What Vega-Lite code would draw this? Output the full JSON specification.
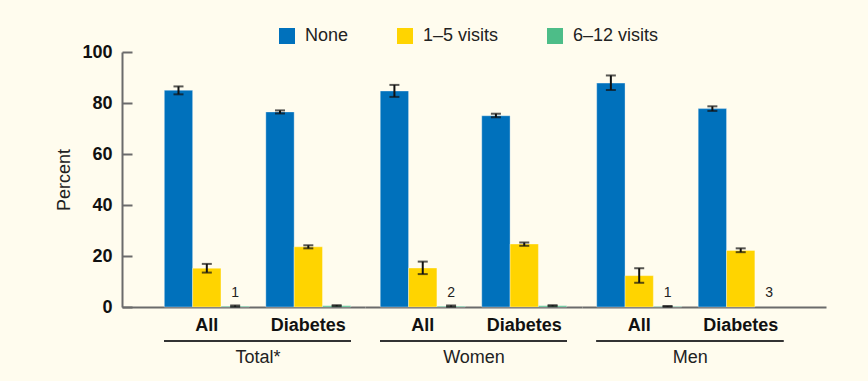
{
  "$schema": "https://vega.github.io/schema/vega-lite/v6.json",
  "background": "#fffcee",
  "padding": {"left": 55, "top": 27, "right": 42, "bottom": 16},
  "spacing": 0,
  "data": {
    "values": [
      {"gender": "Total*", "subgroup": "All", "series": "None", "value": 85.0, "lo": 83.4, "hi": 86.5, "note": null},
      {"gender": "Total*", "subgroup": "All", "series": "1–5 visits", "value": 15.2, "lo": 13.5, "hi": 16.9, "note": null},
      {"gender": "Total*", "subgroup": "All", "series": "6–12 visits", "value": 0.3, "lo": 0.1, "hi": 0.6, "note": "1"},
      {"gender": "Total*", "subgroup": "Diabetes", "series": "None", "value": 76.5, "lo": 75.9, "hi": 77.1, "note": null},
      {"gender": "Total*", "subgroup": "Diabetes", "series": "1–5 visits", "value": 23.6, "lo": 23.0, "hi": 24.2, "note": null},
      {"gender": "Total*", "subgroup": "Diabetes", "series": "6–12 visits", "value": 0.5, "lo": 0.3, "hi": 0.7, "note": null},
      {"gender": "Women", "subgroup": "All", "series": "None", "value": 84.7, "lo": 82.4, "hi": 87.1, "note": null},
      {"gender": "Women", "subgroup": "All", "series": "1–5 visits", "value": 15.3, "lo": 12.9, "hi": 17.8, "note": null},
      {"gender": "Women", "subgroup": "All", "series": "6–12 visits", "value": 0.3, "lo": 0.1, "hi": 0.6, "note": "2"},
      {"gender": "Women", "subgroup": "Diabetes", "series": "None", "value": 75.0, "lo": 74.4, "hi": 75.8, "note": null},
      {"gender": "Women", "subgroup": "Diabetes", "series": "1–5 visits", "value": 24.7, "lo": 24.0, "hi": 25.3, "note": null},
      {"gender": "Women", "subgroup": "Diabetes", "series": "6–12 visits", "value": 0.5, "lo": 0.3, "hi": 0.7, "note": null},
      {"gender": "Men", "subgroup": "All", "series": "None", "value": 87.8, "lo": 85.1, "hi": 90.8, "note": null},
      {"gender": "Men", "subgroup": "All", "series": "1–5 visits", "value": 12.3, "lo": 9.5, "hi": 15.2, "note": null},
      {"gender": "Men", "subgroup": "All", "series": "6–12 visits", "value": 0.2, "lo": 0.1, "hi": 0.4, "note": "1"},
      {"gender": "Men", "subgroup": "Diabetes", "series": "None", "value": 77.8, "lo": 76.9, "hi": 78.7, "note": null},
      {"gender": "Men", "subgroup": "Diabetes", "series": "1–5 visits", "value": 22.2, "lo": 21.5, "hi": 23.0, "note": null},
      {"gender": "Men", "subgroup": "Diabetes", "series": "6–12 visits", "value": null, "lo": null, "hi": null, "note": "3"}
    ]
  },
  "hconcat": [
    {
      "width": 243,
      "height": 255,
      "transform": [{"filter": "datum.gender === 'Total*'"}],
      "encoding": {
        "x": {"field": "subgroup", "type": "nominal", "sort": ["All", "Diabetes"],
              "scale": {"paddingInner": 0.1626, "paddingOuter": 0.2783, "align": 0.749, "round": false},
              "axis": {"title": "Total*", "titleX": 135.5}}
      },
      "layer": [
        {
          "mark": {"type": "bar", "stroke": "#ffffff", "strokeOpacity": 0.35, "strokeWidth": 1},
          "encoding": {
            "xOffset": {"field": "series", "type": "nominal", "scale": {"domain": ["None", "1–5 visits", "6–12 visits"]}},
            "y": {"field": "value", "type": "quantitative", "title": "Percent", "scale": {"domain": [0, 100], "nice": false}},
            "color": {"field": "series", "type": "nominal",
                      "scale": {"domain": ["None", "1–5 visits", "6–12 visits"], "range": ["#0071bc", "#ffd400", "#4dbd88"]}}
          }
        },
        {
          "mark": {"type": "rule", "color": "#111111", "strokeWidth": 2},
          "encoding": {
            "xOffset": {"field": "series", "type": "nominal", "scale": {"domain": ["None", "1–5 visits", "6–12 visits"]}},
            "y": {"field": "lo", "type": "quantitative", "title": "Percent"},
            "y2": {"field": "hi"}
          }
        },
        {
          "mark": {"type": "tick", "color": "#111111", "size": 10, "thickness": 2},
          "encoding": {
            "xOffset": {"field": "series", "type": "nominal", "scale": {"domain": ["None", "1–5 visits", "6–12 visits"]}},
            "y": {"field": "lo", "type": "quantitative", "title": "Percent"}
          }
        },
        {
          "mark": {"type": "tick", "color": "#111111", "size": 10, "thickness": 2},
          "encoding": {
            "xOffset": {"field": "series", "type": "nominal", "scale": {"domain": ["None", "1–5 visits", "6–12 visits"]}},
            "y": {"field": "hi", "type": "quantitative", "title": "Percent"}
          }
        },
        {
          "transform": [{"filter": "datum.note != null"}],
          "mark": {"type": "text", "baseline": "bottom", "dy": -7, "fontSize": 14, "color": "#222222"},
          "encoding": {
            "xOffset": {"field": "series", "type": "nominal", "scale": {"domain": ["None", "1–5 visits", "6–12 visits"]}},
            "y": {"datum": 0},
            "text": {"field": "note"}
          }
        },
        {
          "mark": {"type": "rule", "color": "#333333", "strokeWidth": 2, "clip": false},
          "encoding": {
            "x": {"datum": "All", "bandPosition": 0},
            "x2": {"datum": "Diabetes", "bandPosition": 1},
            "y": {"datum": -13.3}
          }
        }
      ]
    },
    {
      "width": 217,
      "height": 255,
      "transform": [{"filter": "datum.gender === 'Women'"}],
      "encoding": {
        "x": {"field": "subgroup", "type": "nominal", "sort": ["All", "Diabetes"],
              "scale": {"paddingInner": 0.1626, "paddingOuter": 0.1502, "align": 0.5, "round": false},
              "axis": {"title": "Women"}}
      },
      "layer": [
        {
          "mark": {"type": "bar", "stroke": "#ffffff", "strokeOpacity": 0.35, "strokeWidth": 1},
          "encoding": {
            "xOffset": {"field": "series", "type": "nominal", "scale": {"domain": ["None", "1–5 visits", "6–12 visits"]}},
            "y": {"field": "value", "type": "quantitative", "axis": null, "scale": {"domain": [0, 100], "nice": false}},
            "color": {"field": "series", "type": "nominal",
                      "scale": {"domain": ["None", "1–5 visits", "6–12 visits"], "range": ["#0071bc", "#ffd400", "#4dbd88"]}}
          }
        },
        {
          "mark": {"type": "rule", "color": "#111111", "strokeWidth": 2},
          "encoding": {
            "xOffset": {"field": "series", "type": "nominal", "scale": {"domain": ["None", "1–5 visits", "6–12 visits"]}},
            "y": {"field": "lo", "type": "quantitative", "axis": null},
            "y2": {"field": "hi"}
          }
        },
        {
          "mark": {"type": "tick", "color": "#111111", "size": 10, "thickness": 2},
          "encoding": {
            "xOffset": {"field": "series", "type": "nominal", "scale": {"domain": ["None", "1–5 visits", "6–12 visits"]}},
            "y": {"field": "lo", "type": "quantitative", "axis": null}
          }
        },
        {
          "mark": {"type": "tick", "color": "#111111", "size": 10, "thickness": 2},
          "encoding": {
            "xOffset": {"field": "series", "type": "nominal", "scale": {"domain": ["None", "1–5 visits", "6–12 visits"]}},
            "y": {"field": "hi", "type": "quantitative", "axis": null}
          }
        },
        {
          "transform": [{"filter": "datum.note != null"}],
          "mark": {"type": "text", "baseline": "bottom", "dy": -7, "fontSize": 14, "color": "#222222"},
          "encoding": {
            "xOffset": {"field": "series", "type": "nominal", "scale": {"domain": ["None", "1–5 visits", "6–12 visits"]}},
            "y": {"datum": 0, "axis": null},
            "text": {"field": "note"}
          }
        },
        {
          "mark": {"type": "rule", "color": "#333333", "strokeWidth": 2, "clip": false},
          "encoding": {
            "x": {"datum": "All", "bandPosition": 0},
            "x2": {"datum": "Diabetes", "bandPosition": 1},
            "y": {"datum": -13.3, "axis": null}
          }
        }
      ]
    },
    {
      "width": 244,
      "height": 255,
      "transform": [{"filter": "datum.gender === 'Men'"}],
      "encoding": {
        "x": {"field": "subgroup", "type": "nominal", "sort": ["All", "Diabetes"],
              "scale": {"paddingInner": 0.1626, "paddingOuter": 0.2832, "align": 0.2557, "round": false},
              "axis": {"title": "Men", "titleX": 107.7}}
      },
      "layer": [
        {
          "mark": {"type": "bar", "stroke": "#ffffff", "strokeOpacity": 0.35, "strokeWidth": 1},
          "encoding": {
            "xOffset": {"field": "series", "type": "nominal", "scale": {"domain": ["None", "1–5 visits", "6–12 visits"]}},
            "y": {"field": "value", "type": "quantitative", "axis": null, "scale": {"domain": [0, 100], "nice": false}},
            "color": {"field": "series", "type": "nominal",
                      "scale": {"domain": ["None", "1–5 visits", "6–12 visits"], "range": ["#0071bc", "#ffd400", "#4dbd88"]}}
          }
        },
        {
          "mark": {"type": "rule", "color": "#111111", "strokeWidth": 2},
          "encoding": {
            "xOffset": {"field": "series", "type": "nominal", "scale": {"domain": ["None", "1–5 visits", "6–12 visits"]}},
            "y": {"field": "lo", "type": "quantitative", "axis": null},
            "y2": {"field": "hi"}
          }
        },
        {
          "mark": {"type": "tick", "color": "#111111", "size": 10, "thickness": 2},
          "encoding": {
            "xOffset": {"field": "series", "type": "nominal", "scale": {"domain": ["None", "1–5 visits", "6–12 visits"]}},
            "y": {"field": "lo", "type": "quantitative", "axis": null}
          }
        },
        {
          "mark": {"type": "tick", "color": "#111111", "size": 10, "thickness": 2},
          "encoding": {
            "xOffset": {"field": "series", "type": "nominal", "scale": {"domain": ["None", "1–5 visits", "6–12 visits"]}},
            "y": {"field": "hi", "type": "quantitative", "axis": null}
          }
        },
        {
          "transform": [{"filter": "datum.note != null"}],
          "mark": {"type": "text", "baseline": "bottom", "dy": -7, "fontSize": 14, "color": "#222222"},
          "encoding": {
            "xOffset": {"field": "series", "type": "nominal", "scale": {"domain": ["None", "1–5 visits", "6–12 visits"]}},
            "y": {"datum": 0, "axis": null},
            "text": {"field": "note"}
          }
        },
        {
          "mark": {"type": "rule", "color": "#333333", "strokeWidth": 2, "clip": false},
          "encoding": {
            "x": {"datum": "All", "bandPosition": 0},
            "x2": {"datum": "Diabetes", "bandPosition": 1},
            "y": {"datum": -13.3, "axis": null}
          }
        }
      ]
    }
  ],
  "resolve": {"scale": {"y": "shared", "color": "shared"}},
  "config": {
    "font": "Liberation Sans",
    "view": {"stroke": null},
    "axisX": {
      "domainColor": "#6b6b6b", "domainWidth": 2, "ticks": false, "grid": false,
      "labelAngle": 0, "labelFontSize": 18, "labelFontWeight": "bold", "labelColor": "#111111", "labelPadding": 9,
      "titleFontSize": 18, "titleFontWeight": "normal", "titleColor": "#222222", "titlePadding": 14
    },
    "axisY": {
      "domainColor": "#6b6b6b", "domainWidth": 2, "tickColor": "#6b6b6b", "tickWidth": 2, "tickSize": -10,
      "grid": false, "values": [0, 20, 40, 60, 80, 100],
      "labelFontSize": 18, "labelFontWeight": "bold", "labelColor": "#111111", "labelPadding": 20,
      "titleFontSize": 18, "titleFontWeight": "normal", "titleColor": "#222222", "titlePadding": 8
    },
    "legend": {
      "orient": "none", "legendX": 156, "legendY": -25, "direction": "horizontal", "title": null,
      "symbolType": "square", "symbolSize": 256, "symbolStrokeWidth": 0, "symbolOpacity": 1,
      "labelFontSize": 18, "labelColor": "#222222", "labelOffset": 9, "columnPadding": 47
    }
  }
}
